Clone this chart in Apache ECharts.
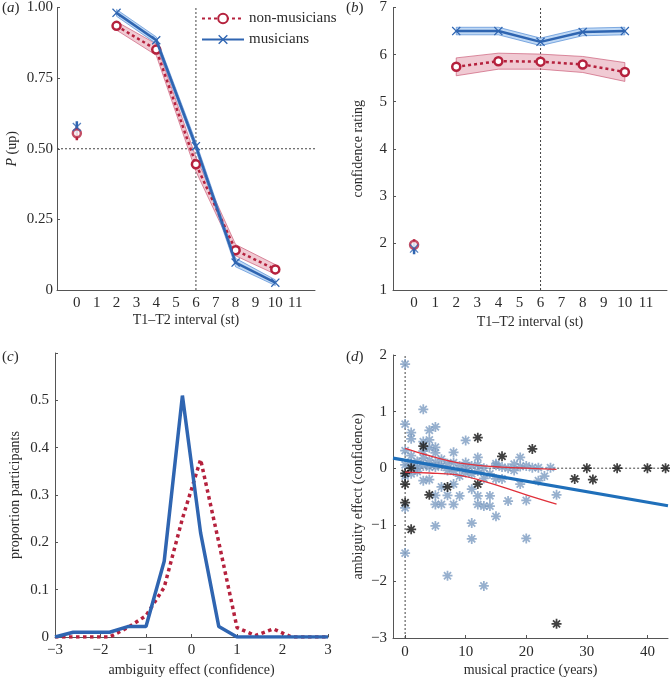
<!DOCTYPE html>
<html><head><meta charset="utf-8">
<script src="https://cdn.jsdelivr.net/npm/echarts@6.0.0/dist/echarts.min.js"></script>
<style>html,body{margin:0;padding:0;background:#fff}#c{width:670px;height:678px}</style>
</head><body><div id="c"></div>
<script>
// ---------- Panel (a) and (b) data ----------
var intervals = [2, 4, 6, 8, 10];
var musP = [0.981, 0.884, 0.509, 0.097, 0.026];
var musPErr = [0.012, 0.012, 0.015, 0.015, 0.01];
var nonP = [0.935, 0.851, 0.445, 0.141, 0.073];
var nonPErr = [0.015, 0.02, 0.025, 0.02, 0.017];
var zeroP = { mus: 0.577, musErr: 0.02, non: 0.555, nonErr: 0.025 };
var musConf = [6.5, 6.5, 6.27, 6.48, 6.5];
var musConfErr = [0.08, 0.08, 0.08, 0.08, 0.08];
var nonConf = [5.74, 5.86, 5.85, 5.79, 5.63];
var nonConfErr = [0.19, 0.17, 0.16, 0.17, 0.2];
var zeroConf = { mus: 1.88, musErr: 0.12, non: 1.96, nonErr: 0.12 };

// ---------- Panel (c) data ----------
var effectBins = [-3, -2.6, -2.2, -1.8, -1.4, -1.0, -0.6, -0.2, 0.2, 0.6, 1.0, 1.4, 1.8, 2.2, 2.6, 3.0];
var musProp = [0, 0.01, 0.01, 0.01, 0.022, 0.022, 0.16, 0.51, 0.22, 0.022, 0, 0, 0, 0, 0, 0];
var nonProp = [0, 0, 0, 0, 0.02, 0.045, 0.105, 0.25, 0.375, 0.2, 0.02, 0.003, 0.017, 0, 0, 0];

// ---------- Panel (d) data ----------
var lightPoints = [
 [0,1.84],[0,0.78],[0,0.31],[0,0.06],[0,-0.14],[0,-0.7],[0,-1.5],
 [1,0.63],[1,0.52],[1,0.22],[1,0.08],[1,-0.1],
 [2,0.12],[2,0.02],[2,-0.06],
 [3,1.04],[3,0.47],[3,0.3],[3,0.18],[3,0.04],[3,-0.22],
 [4,0.67],[4,0.5],[4,0.36],[4,0.14],[4,0.02],[4,-0.2],
 [5,0.73],[5,0.37],[5,0.27],[5,0.1],[5,0.02],[5,-0.48],[5,-0.64],[5,-1.02],
 [6,0.16],[6,0.04],[6,-0.33],[6,-0.64],
 [7,0.08],[7,-0.04],[7,-0.48],[7,-1.9],
 [8,0.28],[8,0.1],[8,-0.05],[8,-0.28],[8,-0.64],
 [9,0.04],[9,-0.14],[9,-0.49],
 [10,0.49],[10,0.1],[10,0.0],[10,-0.08],
 [11,0.04],[11,-0.1],[11,-0.37],[11,-0.97],[11,-1.25],
 [12,0.19],[12,0.06],[12,-0.05],[12,-0.49],[12,-0.64],
 [13,0.0],[13,-0.18],[13,-0.67],[13,-2.08],
 [14,-0.1],[14,-0.49],[14,-0.67],
 [15,0.08],[15,0.05],[15,-0.19],[15,-0.85],
 [16,0.02],[16,-0.19],
 [17,0.0],[17,-0.58],
 [18,0.07],[18,-0.04],
 [19,0.19],[19,0.03],[19,-0.28],
 [20,0.04],[20,-0.57],[20,-1.24],
 [21,0.01],
 [22,0.01],[22,-0.22],
 [23,-0.14],
 [24,0.01],
 [25,-0.47]
];
var darkPoints = [
 [0,-0.09],[0,-0.28],[0,-0.61],[1,0.0],[1,-1.08],[3,0.39],[4,-0.47],[7,-0.33],
 [12,0.54],[12,-0.28],[16,0.21],[21,0.34],[25,-2.75],[28,-0.19],[30,0],[31,-0.2],
 [35,0],[40,0],[43,0]
];
var fitX = [-2, 43.4];
var fitY = [0.177, -0.664];
var ciX = [0, 4, 8, 12, 16, 20, 25];
var ciUpper = [0.35, 0.22, 0.11, 0.05, 0.02, 0.0, -0.02];
var ciLower = [-0.07, -0.085, -0.11, -0.2, -0.33, -0.47, -0.635];
var xTicksD = [0, 10, 20, 30, 40];

// ---------- styling ----------
var FONT = 'Liberation Serif';
var TXT = '#2b2b2b';
var RED = '#b5213d';
var BLUE = '#2f65b1';
var XPATH = 'path://M1,0 L5,4 L9,0 L10,1 L6,5 L10,9 L9,10 L5,6 L1,10 L0,9 L4,5 L0,1 Z';
var STAR = 'path://M8.25,0 L11.75,0 L11.75,20 L8.25,20 Z M0,8.25 L20,8.25 L20,11.75 L0,11.75 Z ' +
  'M4.17,1.69 L18.31,15.83 L15.83,18.31 L1.69,4.17 Z M15.83,1.69 L18.31,4.17 L4.17,18.31 L1.69,15.83 Z';

function zip(xs, ys) { return xs.map(function (x, i) { return [x, ys[i]]; }); }
function minus(v) { return String(v).replace('-', '\u2212'); }

function axis(o) {
  var base = {
    type: 'value', splitLine: { show: false },
    axisLine: { show: true, onZero: false, lineStyle: { color: '#555', width: 1 } },
    axisTick: { show: true, inside: true, length: 3, lineStyle: { color: '#555' } },
    axisLabel: { fontFamily: FONT, fontSize: 15, color: TXT, margin: 6 },
    nameLocation: 'middle',
    nameTextStyle: { fontFamily: FONT, fontSize: 14, color: TXT }
  };
  for (var k in o) {
    if (typeof o[k] === 'object' && base[k] && !Array.isArray(o[k])) {
      for (var j in o[k]) base[k][j] = o[k][j];
    } else base[k] = o[k];
  }
  return base;
}

function band(xi, xs, mid, err, fill, edge) {
  return {
    type: 'custom', xAxisIndex: xi, yAxisIndex: xi, silent: true, z: 1,
    data: [[xs[0], mid[0]]],
    renderItem: function (params, api) {
      var pts = [];
      for (var i = 0; i < xs.length; i++) pts.push(api.coord([xs[i], mid[i] + err[i]]));
      for (var i2 = xs.length - 1; i2 >= 0; i2--) pts.push(api.coord([xs[i2], mid[i2] - err[i2]]));
      return { type: 'polygon', shape: { points: pts }, style: { fill: fill, stroke: edge, lineWidth: 0.8 } };
    }
  };
}
function refLine(xi, pts) {
  return { type: 'line', xAxisIndex: xi, yAxisIndex: xi, data: pts, symbol: 'none', silent: true, z: 0,
    lineStyle: { color: '#444', width: 1, type: [2, 2] } };
}
function errBar(xi, x, c, e, color) {
  return { type: 'line', xAxisIndex: xi, yAxisIndex: xi, data: [[x, c - e], [x, c + e]], symbol: 'none', silent: true, z: 3,
    lineStyle: { color: color, width: 2.5 } };
}
function nonLine(xi, xs, ys, name) {
  return { type: 'line', name: name, xAxisIndex: xi, yAxisIndex: xi, data: zip(xs, ys), z: 4,
    symbol: 'circle', symbolSize: 8,
    lineStyle: { color: RED, width: 2.5, type: [3, 3] },
    itemStyle: { color: '#fff', borderColor: RED, borderWidth: 2.5 } };
}
function musLine(xi, xs, ys, name) {
  return { type: 'line', name: name, xAxisIndex: xi, yAxisIndex: xi, data: zip(xs, ys), z: 5,
    symbol: XPATH, symbolSize: 9,
    lineStyle: { color: BLUE, width: 2.5 },
    itemStyle: { color: BLUE } };
}

var abLabelFmt = function (v) { return (v < 0 || v > 11) ? '' : String(v); };

var option = {
  animation: false,
  backgroundColor: '#fff',
  title: [
    { text: '({i|a})', left: 2, top: 1 },
    { text: '({i|b})', left: 346, top: 1 },
    { text: '({i|c})', left: 2, top: 350 },
    { text: '({i|d})', left: 346, top: 350 }
  ].map(function (t) {
    t.padding = 0;
    t.textStyle = { fontFamily: FONT, fontSize: 15, fontWeight: 'normal', color: TXT,
      rich: { i: { fontFamily: FONT, fontSize: 15, fontStyle: 'italic', color: TXT } } };
    return t;
  }),
  legend: {
    data: ['non-musicians', 'musicians'], orient: 'vertical', left: 196, top: 6,
    itemWidth: 42, itemHeight: 12, itemGap: 6,
    textStyle: { fontFamily: FONT, fontSize: 15, color: TXT }
  },
  grid: [
    { left: 57, top: 7, width: 258, height: 283 },
    { left: 393, top: 7, width: 274, height: 283 },
    { left: 55, top: 353, width: 273, height: 284 },
    { left: 393, top: 355, width: 275, height: 283 }
  ],
  xAxis: [
    axis({ gridIndex: 0, min: -1, max: 12, interval: 1, name: 'T1\u2013T2 interval (st)', nameGap: 23,
      axisLabel: { formatter: abLabelFmt }, axisTick: { show: false } }),
    axis({ gridIndex: 1, min: -1, max: 12, interval: 1, name: 'T1\u2013T2 interval (st)', nameGap: 25,
      axisLabel: { formatter: abLabelFmt }, axisTick: { show: false } }),
    axis({ gridIndex: 2, min: -3, max: 3, interval: 1, name: 'ambiguity effect (confidence)', nameGap: 26,
      axisLabel: { formatter: minus } }),
    axis({ gridIndex: 3, min: -2, max: 43.4, name: 'musical practice (years)', nameGap: 25,
      axisLabel: { customValues: xTicksD, margin: 7 }, axisTick: { customValues: xTicksD } })
  ],
  yAxis: [
    axis({ gridIndex: 0, min: 0, max: 1, interval: 0.25, name: '{i|P} (up)', nameGap: 38,
      nameTextStyle: { rich: { i: { fontStyle: 'italic', fontFamily: FONT, fontSize: 14, color: TXT } } },
      axisLabel: { margin: 4, formatter: function (v) { return v === 0 ? '0' : v.toFixed(2); } } }),
    axis({ gridIndex: 1, min: 1, max: 7, interval: 1, name: 'confidence rating', nameGap: 28 }),
    axis({ gridIndex: 2, min: 0, max: 0.6, interval: 0.1, name: 'proportion participants', nameGap: 33,
      axisLabel: { formatter: function (v) { return v > 0.55 ? '' : (v === 0 ? '0' : v.toFixed(1)); } } }),
    axis({ gridIndex: 3, min: -3, max: 2, interval: 1, name: 'ambiguity effect (confidence)', nameGap: 28,
      axisLabel: { formatter: minus } })
  ],
  series: [
    // (a)
    refLine(0, [[-1, 0.5], [12, 0.5]]),
    refLine(0, [[6, 0], [6, 1]]),
    band(0, intervals, nonP, nonPErr, 'rgba(226,150,168,0.5)', 'rgba(200,80,110,0.8)'),
    band(0, intervals, musP, musPErr, 'rgba(130,180,235,0.5)', 'rgba(70,130,210,0.8)'),
    nonLine(0, intervals, nonP, 'non-musicians'),
    musLine(0, intervals, musP, 'musicians'),
    errBar(0, 0, zeroP.non, zeroP.nonErr, RED),
    errBar(0, 0, zeroP.mus, zeroP.musErr, BLUE),
    { type: 'scatter', name: 'nonZeroA', xAxisIndex: 0, yAxisIndex: 0, data: [[0, zeroP.non]], symbol: 'circle', symbolSize: 8, z: 4,
      itemStyle: { color: '#fff', borderColor: RED, borderWidth: 2.5 } },
    { type: 'scatter', name: 'musZeroA', xAxisIndex: 0, yAxisIndex: 0, data: [[0, zeroP.mus]], symbol: XPATH, symbolSize: 9, z: 5,
      itemStyle: { color: BLUE } },
    // (b)
    refLine(1, [[6, 1], [6, 7]]),
    band(1, intervals, nonConf, nonConfErr, 'rgba(226,150,168,0.5)', 'rgba(200,80,110,0.8)'),
    band(1, intervals, musConf, musConfErr, 'rgba(130,180,235,0.5)', 'rgba(70,130,210,0.8)'),
    nonLine(1, intervals, nonConf, 'non-musicians'),
    musLine(1, intervals, musConf, 'musicians'),
    errBar(1, 0, zeroConf.non, zeroConf.nonErr, RED),
    errBar(1, 0, zeroConf.mus, zeroConf.musErr, BLUE),
    { type: 'scatter', name: 'nonZeroB', xAxisIndex: 1, yAxisIndex: 1, data: [[0, zeroConf.non]], symbol: 'circle', symbolSize: 8, z: 4,
      itemStyle: { color: '#fff', borderColor: RED, borderWidth: 2.5 } },
    { type: 'scatter', name: 'musZeroB', xAxisIndex: 1, yAxisIndex: 1, data: [[0, zeroConf.mus]], symbol: XPATH, symbolSize: 9, z: 5,
      itemStyle: { color: BLUE } },
    // (c)
    { type: 'line', name: 'nonHist', xAxisIndex: 2, yAxisIndex: 2, data: zip(effectBins, nonProp), symbol: 'none', z: 3,
      lineStyle: { color: RED, width: 3.5, type: [3.5, 3.5] } },
    { type: 'line', name: 'musHist', xAxisIndex: 2, yAxisIndex: 2, data: zip(effectBins, musProp), symbol: 'none', z: 4,
      lineStyle: { color: BLUE, width: 3.5 } },
    // (d)
    refLine(3, [[0, -3], [0, 2]]),
    refLine(3, [[0, 0], [43.4, 0]]),
    { type: 'scatter', name: 'light', xAxisIndex: 3, yAxisIndex: 3, data: lightPoints, symbol: STAR, symbolSize: 10, z: 2,
      itemStyle: { color: '#7d9cc2' } },
    { type: 'scatter', name: 'dark', xAxisIndex: 3, yAxisIndex: 3, data: darkPoints, symbol: STAR, symbolSize: 10, z: 3,
      itemStyle: { color: '#111' } },
    { type: 'line', name: 'ciU', xAxisIndex: 3, yAxisIndex: 3, data: zip(ciX, ciUpper), symbol: 'none', smooth: 0.4, z: 4,
      lineStyle: { color: '#e0303a', width: 1.3 } },
    { type: 'line', name: 'ciL', xAxisIndex: 3, yAxisIndex: 3, data: zip(ciX, ciLower), symbol: 'none', smooth: 0.4, z: 4,
      lineStyle: { color: '#e0303a', width: 1.3 } },
    { type: 'line', name: 'fit', xAxisIndex: 3, yAxisIndex: 3, data: zip(fitX, fitY), symbol: 'none', z: 5,
      lineStyle: { color: '#1f6fba', width: 3.2 } }
  ]
};
var chart = echarts.init(document.getElementById('c'), null, { renderer: 'canvas' });
chart.setOption(option);
</script>
</body></html>
